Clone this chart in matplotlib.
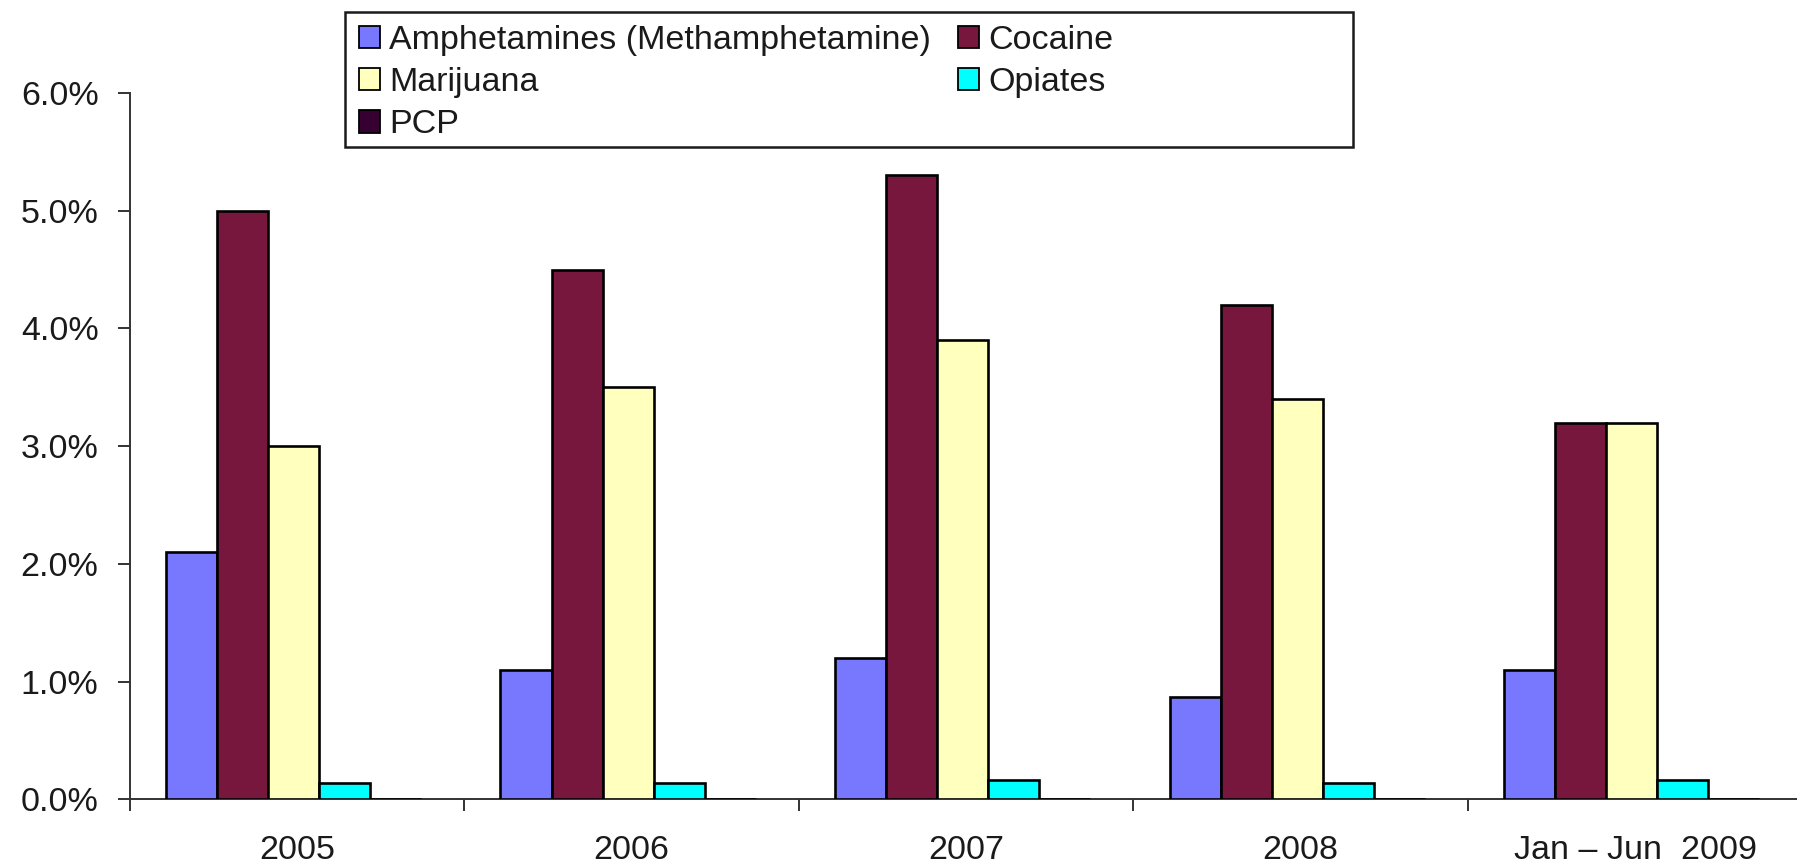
import matplotlib
matplotlib.use("Agg")
import matplotlib.pyplot as plt
from matplotlib.patches import Rectangle, Patch
from matplotlib.ticker import FuncFormatter
import numpy as np

plt.rcParams['font.family'] = ['Liberation Sans', 'DejaVu Sans']

periods = ["2005", "2006", "2007", "2008", "Jan \u2013 Jun  2009"]
series = ["Amphetamines (Methamphetamine)", "Cocaine", "Marijuana", "Opiates", "PCP"]
amphetamines = [2.1, 1.1, 1.2, 0.87, 1.1]
cocaine = [5.0, 4.5, 5.3, 4.2, 3.2]
marijuana = [3.0, 3.5, 3.9, 3.4, 3.2]
opiates = [0.14, 0.14, 0.16, 0.14, 0.16]
pcp = [0.0, 0.0, 0.0, 0.0, 0.0]
y_ticks = [0.0, 1.0, 2.0, 3.0, 4.0, 5.0, 6.0]

colors = ["#7878FF", "#78173E", "#FFFFBE", "#00FFFF", "#360033"]
values = [amphetamines, cocaine, marijuana, opiates, pcp]

W, H = 1797, 865
fig = plt.figure(figsize=(W / 100, H / 100), dpi=100)
ax = fig.add_axes([129.5 / W, 1 - 799.3 / H, 1673 / W, (799.3 - 93) / H])

FS = 24.5
x = np.arange(len(periods))
bw = 0.1525
for i, (vals, col) in enumerate(zip(values, colors)):
    off = -0.01 - 2.5 * bw + bw * (i + 0.5)
    ax.bar(x + off, vals, width=bw, color=col, edgecolor="black", linewidth=1.9, zorder=3)

ax.set_xlim(-0.5, len(periods) - 0.5)
ax.set_ylim(0, 6.0)
ax.set_yticks(y_ticks)
ax.yaxis.set_major_formatter(FuncFormatter(lambda v, p: f"{v:.1f}%"))
ax.set_xticks(x)
ax.set_xticklabels(periods)
ax.set_xticks(np.arange(len(periods) + 1) - 0.5, minor=True)
ax.tick_params(axis="x", which="major", length=0, pad=26, labelsize=FS, colors="#1a1a1a")
ax.tick_params(axis="x", which="minor", length=8.6, width=1.4, color="#333333")
ax.tick_params(axis="y", length=8.6, width=1.4, pad=13.7, labelsize=FS,
               color="#333333", labelcolor="#1a1a1a")

for s in ["top", "right"]:
    ax.spines[s].set_visible(False)
for s in ["left", "bottom"]:
    ax.spines[s].set_linewidth(1.4)
    ax.spines[s].set_color("#333333")

# legend: two columns, filled row by row
leg_kw = dict(loc="upper left", frameon=False, fontsize=FS, handlelength=0.62,
              handleheight=0.62, handletextpad=0.27, labelspacing=0.33,
              borderpad=0, borderaxespad=0)
col1 = [0, 2, 4]
col2 = [1, 3]
leg1 = fig.legend([Patch(facecolor=colors[k], edgecolor="black", linewidth=1.3) for k in col1],
                  [series[k] for k in col1], bbox_to_anchor=(359 / W, 1 - 25 / H), **leg_kw)
leg2 = fig.legend([Patch(facecolor=colors[k], edgecolor="black", linewidth=1.3) for k in col2],
                  [series[k] for k in col2], bbox_to_anchor=(958 / W, 1 - 25 / H), **leg_kw)
for lg in (leg1, leg2):
    for t in lg.get_texts():
        t.set_color("#1a1a1a")

fig.patches.append(Rectangle((345 / W, 1 - 147 / H), 1008 / W, 135 / H,
                             transform=fig.transFigure, facecolor="none",
                             edgecolor="#1a1a1a", linewidth=1.8, zorder=5))

fig.savefig("out.png", dpi=100, facecolor="white")
